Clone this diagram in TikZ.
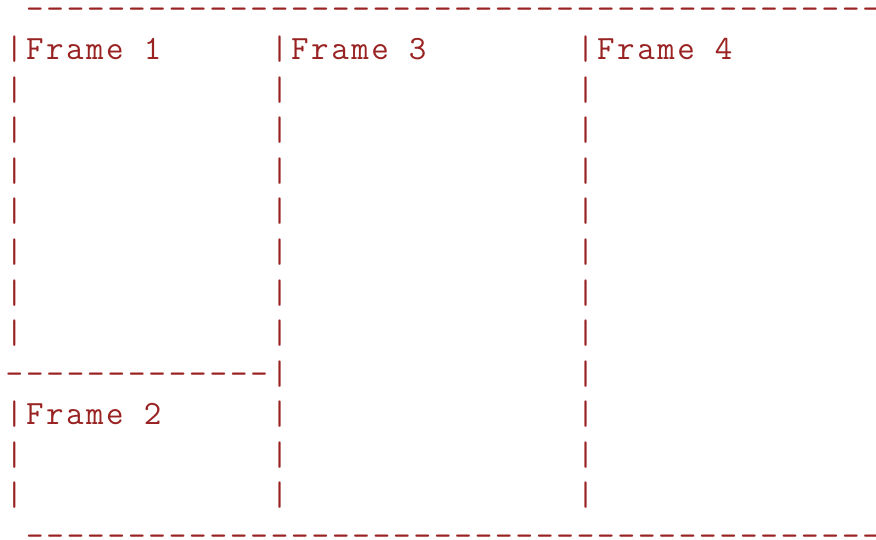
\documentclass[tikz,border=0pt]{standalone}
\usepackage{fontspec}
\newfontfamily\asciifont{Latin Modern Mono}
\newfontfamily\labelfont{Latin Modern Mono}[LetterSpace=7.5]
\definecolor{framered}{RGB}{153,34,34}
\tikzset{
  cell/.style={anchor=base west,inner sep=0pt,outer sep=0pt,text=framered,
    font=\asciifont\fontsize{34}{40}\selectfont},
  framelabel/.style={cell,font=\labelfont\fontsize{34}{40}\selectfont}
}
\begin{document}
\begin{tikzpicture}
\useasboundingbox (0pt,0pt) rectangle (876pt,-540pt);
\clip (0pt,0pt) rectangle (876pt,-540pt);
\begin{scope}[x=20.4pt,y=-40.5pt,shift={(5.6pt,-19.5pt)}]
% top and bottom rules
\foreach \c in {1,...,42} {
  \node[cell] (top\c) at (\c,0) {-};
  \node[cell] (bot\c) at (\c,13) {-};
}
% rule between frame 1 and frame 2
\foreach \c in {0,...,12}
  \node[cell] (mid\c) at (\c,9) {-};
% side bars
\foreach \r in {1,...,12} {
  \node[cell] (barB\r) at (13,\r) {|};
  \node[cell] (barC\r) at (28,\r) {|};
}
\foreach \r in {1,...,8,10,11,12}
  \node[cell] (barA\r) at (0,\r) {|};
% labels
\node[framelabel] (frame1) at (1,1) {Frame 1};
\node[framelabel] (frame2) at (1,10) {Frame 2};
\node[framelabel] (frame3) at (14,1) {Frame 3};
\node[framelabel] (frame4) at (29,1) {Frame 4};
\end{scope}
\end{tikzpicture}
\end{document}
